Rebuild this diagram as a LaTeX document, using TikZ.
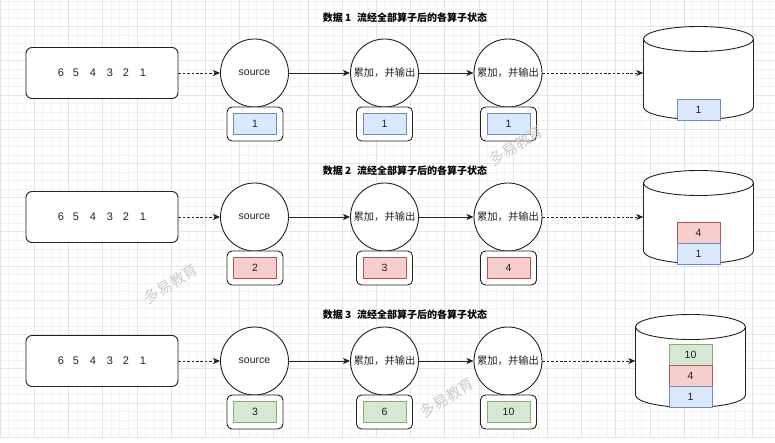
\documentclass[tikz,border=0pt]{standalone}
\usepackage{fontspec}
\setmainfont{Liberation Sans}
\newfontfamily\cjk{Noto Sans CJK SC}
\usetikzlibrary{arrows.meta}
\definecolor{cblue}{HTML}{DAE8FC}
\definecolor{sblue}{HTML}{6C8EBF}
\definecolor{cred}{HTML}{F8CECC}
\definecolor{sred}{HTML}{B85450}
\definecolor{cgreen}{HTML}{D5E8D4}
\definecolor{sgreen}{HTML}{82B366}
\definecolor{gridminor}{HTML}{F3F3F3}
\definecolor{gridmajor}{HTML}{E4E4E4}
\definecolor{ink}{HTML}{222222}
\definecolor{wmark}{HTML}{CCCCCC}
\tikzset{
  inbox/.style={draw=ink, fill=white, rounded corners=6pt, minimum width=152pt, minimum height=51pt, line width=0.9pt, font=\fontsize{11}{11}\selectfont, text=ink},
  opnode/.style={circle, draw=ink, fill=white, minimum size=68pt, inner sep=0pt, line width=0.9pt, font=\fontsize{10.5}{10.5}\selectfont, text=ink},
  opcjk/.style={opnode, font=\cjk\fontsize{10.3}{10.3}\selectfont},
  statebox/.style={draw=ink, fill=white, rounded corners=5pt, minimum width=56pt, minimum height=34pt, line width=0.9pt},
  cell/.style={minimum width=43pt, minimum height=21pt, inner sep=0pt, line width=0.8pt, font=\fontsize{10.5}{10.5}\selectfont, text=ink},
  bluecell/.style={cell, fill=cblue, draw=sblue},
  redcell/.style={cell, fill=cred, draw=sred},
  greencell/.style={cell, fill=cgreen, draw=sgreen},
  titletext/.style={font=\cjk\bfseries\fontsize{10}{10}\selectfont, text=black},
  cylbody/.style={minimum width=110pt, minimum height=68pt, inner sep=0pt},
  flowline/.style={draw=ink, line width=0.8pt, -{Stealth[length=7pt,width=6pt,inset=1.8pt]}},
  dashline/.style={flowline, dash pattern=on 2.6pt off 1.8pt},
  watermark/.style={rotate=32, text=wmark, font=\cjk\fontsize{15}{15}\selectfont, inner sep=0pt}
}
\newcommand{\mycyl}[2]{% center x, center y
  \fill[white] (#1,#2+34) ellipse[x radius=55, y radius=12.5];
  \fill[white] (#1-55,#2-34) rectangle (#1+55,#2+34);
  \draw[ink, line width=0.9pt] (#1-55,#2-34) -- (#1-55,#2+34) arc[start angle=180, end angle=0, x radius=55, y radius=12.5] -- (#1+55,#2-34);
  \filldraw[ink, fill=white, line width=0.9pt] (#1,#2-34) ellipse[x radius=55, y radius=12.5];
}
\newcommand{\digits}{6\hskip8.9pt 5\hskip10.9pt 4\hskip10.9pt 3\hskip9.9pt 2\hskip10.9pt 1}
\begin{document}
\begin{tikzpicture}[x=1pt, y=-1pt]
\useasboundingbox (0,0) rectangle (775,443);
\fill[white] (0,0) rectangle (775,443);
% grid
\foreach \i in {0,...,91} \draw[gridminor, line width=0.6pt] (\i*8.55,0) -- (\i*8.55,437);
\foreach \j in {0,...,51} \draw[gridminor, line width=0.6pt] (0,437-\j*8.55) -- (775,437-\j*8.55);
\foreach \i in {0,...,22} \draw[gridmajor, line width=0.6pt] (\i*34.2,0) -- (\i*34.2,437);
\foreach \j in {0,...,12} \draw[gridmajor, line width=0.6pt] (0,437-\j*34.2) -- (775,437-\j*34.2);

% ---------- row 1 ----------
\node[titletext] (t1) at (405,18) {数据 1\hskip6pt 流经全部算子后的各算子状态};
\node[inbox] (in1) at (102,73) {\digits};
\node[opnode] (src1) at (254.5,73) {source};
\node[opcjk] (opa1) at (384.5,73) {累加，并输出};
\node[opcjk] (opb1) at (508,73) {累加，并输出};
\node[statebox] (sa1) at (255,124) {};
\node[statebox] (sb1) at (384.5,124) {};
\node[statebox] (sc1) at (508.5,124) {};
\node[bluecell] (ca1) at (sa1) {1};
\node[bluecell] (cb1) at (sb1) {1};
\node[bluecell] (cc1) at (sc1) {1};
\mycyl{698.5}{73}
\node[cylbody] (cyl1) at (698.5,73) {};
\node[bluecell] (d11) at (698.5,109.5) {1};
\draw[dashline] (in1.east) -- (src1.west);
\draw[flowline] (src1.east) -- (opa1.west);
\draw[flowline] (opa1.east) -- (opb1.west);
\draw[dashline] (opb1.east) -- (cyl1.west);

% ---------- row 2 ----------
\node[titletext] (t2) at (405,171) {数据 2\hskip6pt 流经全部算子后的各算子状态};
\node[inbox] (in2) at (102,217) {\digits};
\node[opnode] (src2) at (254.5,217) {source};
\node[opcjk] (opa2) at (384.5,217) {累加，并输出};
\node[opcjk] (opb2) at (508,217) {累加，并输出};
\node[statebox] (sa2) at (255,268) {};
\node[statebox] (sb2) at (384.5,268) {};
\node[statebox] (sc2) at (508.5,268) {};
\node[redcell] (ca2) at (sa2) {2};
\node[redcell] (cb2) at (sb2) {3};
\node[redcell] (cc2) at (sc2) {4};
\mycyl{698.5}{217}
\node[cylbody] (cyl2) at (698.5,217) {};
\node[redcell] (d22) at (698.5,232.5) {4};
\node[bluecell] (d21) at (698.5,253.5) {1};
\draw[dashline] (in2.east) -- (src2.west);
\draw[flowline] (src2.east) -- (opa2.west);
\draw[flowline] (opa2.east) -- (opb2.west);
\draw[dashline] (opb2.east) -- (cyl2.west);

% ---------- row 3 ----------
\node[titletext] (t3) at (405,315) {数据 3\hskip6pt 流经全部算子后的各算子状态};
\node[inbox] (in3) at (102,361) {\digits};
\node[opnode] (src3) at (254.5,361) {source};
\node[opcjk] (opa3) at (384.5,361) {累加，并输出};
\node[opcjk] (opb3) at (508,361) {累加，并输出};
\node[statebox] (sa3) at (255,412) {};
\node[statebox] (sb3) at (384.5,412) {};
\node[statebox] (sc3) at (508.5,412) {};
\node[greencell] (ca3) at (sa3) {3};
\node[greencell] (cb3) at (sb3) {6};
\node[greencell] (cc3) at (sc3) {10};
\mycyl{690.5}{361}
\node[cylbody] (cyl3) at (690.5,361) {};
\node[greencell] (d33) at (690.5,355) {10};
\node[redcell] (d32) at (690.5,376) {4};
\node[bluecell] (d31) at (690.5,397) {1};
\draw[dashline] (in3.east) -- (src3.west);
\draw[flowline] (src3.east) -- (opa3.west);
\draw[flowline] (opa3.east) -- (opb3.west);
\draw[dashline] (opb3.east) -- (cyl3.west);

% watermarks
\node[watermark] (w1) at (516,146) {多易教育};
\node[watermark] (w2) at (171,284) {多易教育};
\node[watermark] (w3) at (447,398) {多易教育};
\end{tikzpicture}
\end{document}
